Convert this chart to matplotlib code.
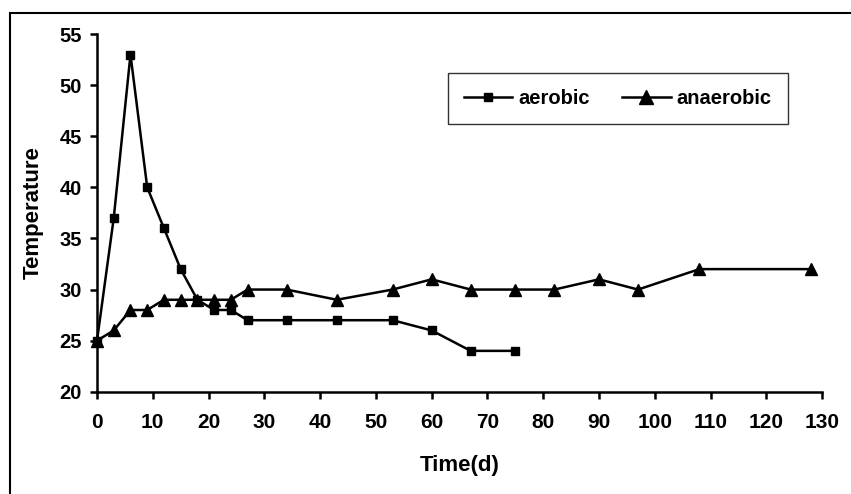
import numpy as np
import matplotlib.pyplot as plt
from matplotlib.patches import Rectangle

plt.rcParams['font.family'] = ['Liberation Sans', 'DejaVu Sans']
plt.rcParams['font.weight'] = 'bold'

# Data
aerobic_days = [0, 3, 6, 9, 12, 15, 18, 21, 24, 27, 34, 43, 53, 60, 67, 75]
aerobic_temp = [25, 37, 53, 40, 36, 32, 29, 28, 28, 27, 27, 27, 27, 26, 24, 24]

anaerobic_days = [0, 3, 6, 9, 12, 15, 18, 21, 24, 27, 34, 43, 53, 60, 67, 75,
                  82, 90, 97, 108, 128]
anaerobic_temp = [25, 26, 28, 28, 29, 29, 29, 29, 29, 30, 30, 29, 30, 31, 30, 30,
                  30, 31, 30, 32, 32]

x_ticks = np.arange(0, 131, 10)
y_ticks = np.arange(20, 56, 5)

fig = plt.figure(figsize=(8.51, 4.94), dpi=100)
ax = fig.add_axes([0.114, 0.207, 0.852, 0.724])

# outer frame, cut off at right and bottom like the original
fig.patches.append(Rectangle((10 / 851, -0.05), 1.2, 1 - 13 / 494 + 0.05,
                             transform=fig.transFigure, fill=False,
                             edgecolor='black', linewidth=1.5))

ax.plot(aerobic_days, aerobic_temp, color='black', linewidth=1.8,
        marker='s', markersize=5.5, label='aerobic', clip_on=False, zorder=3)
ax.plot(anaerobic_days, anaerobic_temp, color='black', linewidth=1.8,
        marker='^', markersize=9, label='anaerobic', clip_on=False, zorder=3)

ax.set_xlim(0, 130)
ax.set_ylim(20, 55)
ax.set_xticks(x_ticks)
ax.set_yticks(y_ticks)

for side in ['top', 'right']:
    ax.spines[side].set_visible(False)
for side in ['left', 'bottom']:
    ax.spines[side].set_linewidth(1.8)

ax.tick_params(direction='out', length=5, width=1.8)
ax.tick_params(axis='x', labelsize=15, pad=10)
ax.tick_params(axis='y', labelsize=14.5, pad=6)
ax.set_xlabel('Time(d)', fontsize=16, fontweight='bold', labelpad=17)
ax.set_ylabel('Temperature', fontsize=16, fontweight='bold', labelpad=11)

leg = fig.legend(loc='center', bbox_to_anchor=(0.726, 0.8), ncol=2,
                 frameon=True, fancybox=False, fontsize=14.5,
                 handlelength=2.4, columnspacing=1.6, borderpad=0.8,
                 handletextpad=0.3)
leg.get_frame().set_edgecolor('black')
leg.get_frame().set_linewidth(1.0)
leg.legend_handles[0].set_markersize(5.5)
leg.legend_handles[1].set_markersize(10)

fig.savefig('out.png', dpi=100)
